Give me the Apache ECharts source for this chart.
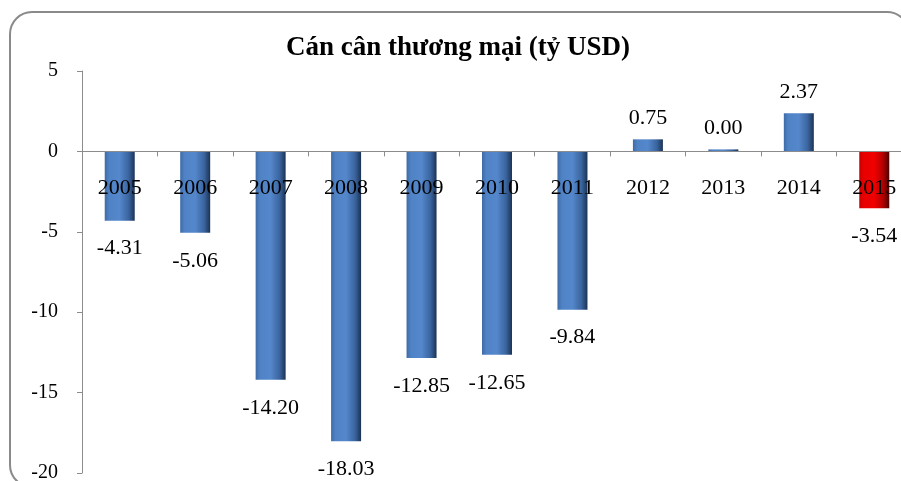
<!DOCTYPE html>
<html>
<head>
<meta charset="utf-8">
<script src="https://cdn.jsdelivr.net/npm/echarts@6/dist/echarts.min.js"></script>
<style>
  html, body { margin: 0; padding: 0; background: #ffffff; }
  #chart { width: 901px; height: 481px; }
</style>
</head>
<body>
<div id="chart"></div>
<script>
// du lieu doc tu hinh
var years = ['2005', '2006', '2007', '2008', '2009', '2010', '2011', '2012', '2013', '2014', '2015'];
var balance = [-4.31, -5.06, -14.20, -18.03, -12.85, -12.65, -9.84, 0.75, 0.00, 2.37, -3.54];
var yTicks = [-20, -15, -10, -5, 0, 5];

var serif = '"Liberation Serif", "Times New Roman", serif';

var blueFill = new echarts.graphic.LinearGradient(0, 0, 1, 0, [
  { offset: 0, color: '#3f6ba6' },
  { offset: 0.15, color: '#4f83c6' },
  { offset: 0.5, color: '#5487cb' },
  { offset: 0.8, color: '#3a649e' },
  { offset: 1, color: '#1b3354' }
]);
var redFill = new echarts.graphic.LinearGradient(0, 0, 1, 0, [
  { offset: 0, color: '#c80000' },
  { offset: 0.15, color: '#e80000' },
  { offset: 0.5, color: '#f00000' },
  { offset: 0.8, color: '#b00000' },
  { offset: 1, color: '#4a0000' }
]);

var barData = balance.map(function (v, i) {
  return {
    value: v,
    itemStyle: { color: years[i] === '2015' ? redFill : blueFill },
    label: { position: v < 0 ? 'bottom' : 'top', distance: v < 0 ? 17 : 10 }
  };
});

// grid: top 71, cao 402 px cho khoang -20..5 -> duong 0 nam cach day 321.6 px
var gridTop = 71, gridHeight = 402;
var zeroFromBottom = gridHeight * (0 - yTicks[0]) / (yTicks[yTicks.length - 1] - yTicks[0]);

var chart = echarts.init(document.getElementById('chart'));
chart.setOption({
  backgroundColor: '#ffffff',
  animation: false,
  title: {
    text: 'Cán cân thương mại (tỷ USD)',
    left: 286,
    top: 35,
    padding: 0,
    textStyle: { fontFamily: serif, fontSize: 27, fontWeight: 'bold', color: '#000' }
  },
  graphic: [{
    type: 'rect',
    shape: { x: 10, y: 12, width: 899, height: 475, r: 22 },
    style: { fill: 'none', stroke: '#8a8a8a', lineWidth: 2 },
    z: -1
  }],
  grid: {
    left: 82, top: gridTop, width: 830, height: gridHeight,
    containLabel: false, outerBoundsMode: 'none'
  },
  xAxis: {
    type: 'category',
    data: years,
    z: 5,
    offset: -zeroFromBottom,
    axisLine: { onZero: false, lineStyle: { color: '#8c8c8c', width: 1 } },
    axisTick: { show: true, length: 5, lineStyle: { color: '#8c8c8c' } },
    axisLabel: { margin: 26, fontFamily: serif, fontSize: 22, color: '#000' }
  },
  yAxis: {
    type: 'value',
    min: yTicks[0],
    max: yTicks[yTicks.length - 1],
    interval: 5,
    splitLine: { show: false },
    axisLine: { show: true, lineStyle: { color: '#8c8c8c' } },
    axisTick: { show: true, length: 5, lineStyle: { color: '#8c8c8c' } },
    axisLabel: { margin: 24, fontFamily: serif, fontSize: 20, color: '#000' }
  },
  series: [{
    type: 'bar',
    data: barData,
    barWidth: 30,
    barMinHeight: 2,
    label: {
      show: true,
      fontFamily: serif,
      fontSize: 22,
      color: '#000',
      formatter: function (p) { return p.value.toFixed(2); }
    }
  }]
});
</script>
</body>
</html>
